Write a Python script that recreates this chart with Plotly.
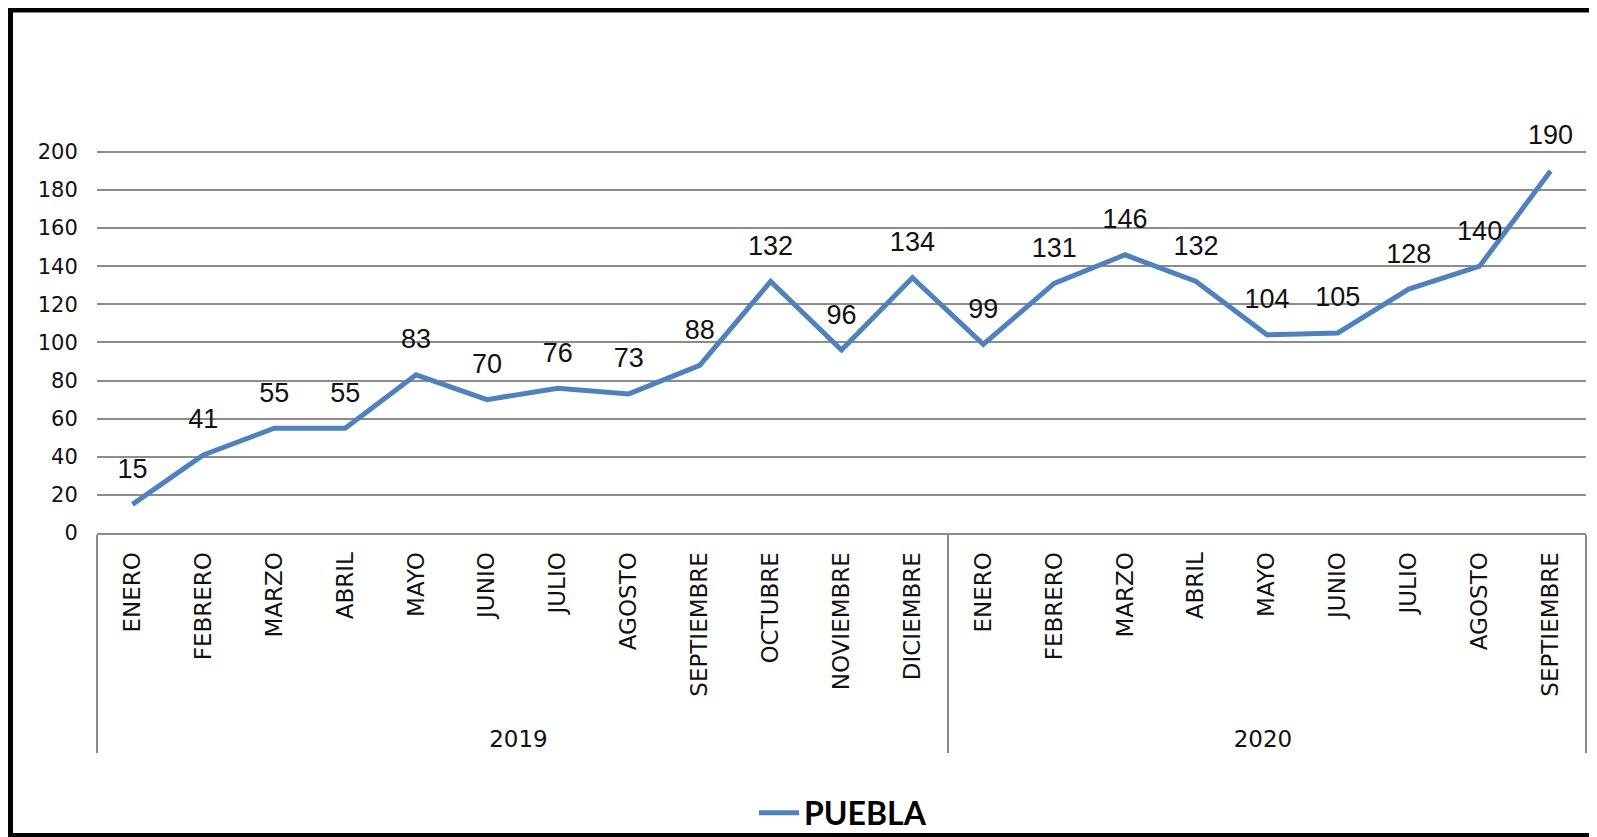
import plotly.graph_objects as go

years = ["2019"] * 12 + ["2020"] * 9
months = ["ENERO", "FEBRERO", "MARZO", "ABRIL", "MAYO", "JUNIO", "JULIO", "AGOSTO",
          "SEPTIEMBRE", "OCTUBRE", "NOVIEMBRE", "DICIEMBRE",
          "ENERO", "FEBRERO", "MARZO", "ABRIL", "MAYO", "JUNIO", "JULIO", "AGOSTO",
          "SEPTIEMBRE"]
puebla = [15, 41, 55, 55, 83, 70, 76, 73, 88, 132, 96, 134,
          99, 131, 146, 132, 104, 105, 128, 140, 190]
y_ticks = [0, 20, 40, 60, 80, 100, 120, 140, 160, 180, 200]

LINE_COLOR = "#4F81BD"
GRID = "#8C8C8C"

# page body has an 8px default margin: work in window coordinates, then offset
OFF = 8
WIN_W, WIN_H = 1597, 837
W, H = WIN_W - OFF, WIN_H - OFF
PL, PR, PT, PB = 97, 1586, 150, 533          # plot area in window pixels
L, R, T, B = PL - OFF, WIN_W - PR, PT - OFF, WIN_H - PB
PW, PH = PR - PL, PB - PT

def px(x):
    return (x - PL) / PW

def py(y):
    return (PB - y) / PH

pad = "\u00a0\u00a0"
x_cats = [years, [pad + m for m in months]]

fig = go.Figure()
fig.add_trace(go.Scatter(
    x=x_cats, y=puebla, mode="lines", name="<b>PUEBLA</b>",
    line=dict(color=LINE_COLOR, width=5), showlegend=True,
))
fig.add_trace(go.Scatter(
    x=x_cats, y=puebla, mode="markers+text",
    text=[str(v) for v in puebla], textposition="top center",
    textfont=dict(family="Liberation Sans, Arial", size=27, color="#111111"),
    marker=dict(size=30, color="rgba(0,0,0,0)"),
    showlegend=False, cliponaxis=False, hoverinfo="skip",
))

fig.update_layout(
    width=W, height=H,
    margin=dict(l=L, r=R, t=T, b=B, autoexpand=False),
    paper_bgcolor="white", plot_bgcolor="white",
    showlegend=True,
    legend=dict(orientation="h", x=px(843), y=py(813), xanchor="center", yanchor="middle",
                font=dict(family="Lato", size=32, color="#000000"),
                bgcolor="rgba(0,0,0,0)", itemwidth=40),
    xaxis=dict(
        type="multicategory", range=[-0.5, 20.5],
        showline=True, linecolor=GRID, linewidth=2,
        showgrid=False, ticks="", ticklabelstandoff=8,
        tickangle=-90,
        showdividers=True, dividercolor=GRID, dividerwidth=2,
        tickfont=dict(family="DejaVu Sans", size=23, color="#111111"),
    ),
    yaxis=dict(
        range=[0, 201], tickvals=y_ticks, showgrid=True, gridcolor=GRID, gridwidth=2,
        showline=False, zeroline=False, ticks="outside", ticklen=14, tickcolor="rgba(0,0,0,0)",
        tickfont=dict(family="DejaVu Sans", size=21, color="#111111"),
    ),
    shapes=[dict(type="rect", xref="paper", yref="paper",
                 x0=px(10), x1=px(1640), y0=py(836), y1=py(9.5),
                 line=dict(color="black", width=6), fillcolor="rgba(0,0,0,0)",
                 layer="below")],
)

fig.write_html("out.html")
